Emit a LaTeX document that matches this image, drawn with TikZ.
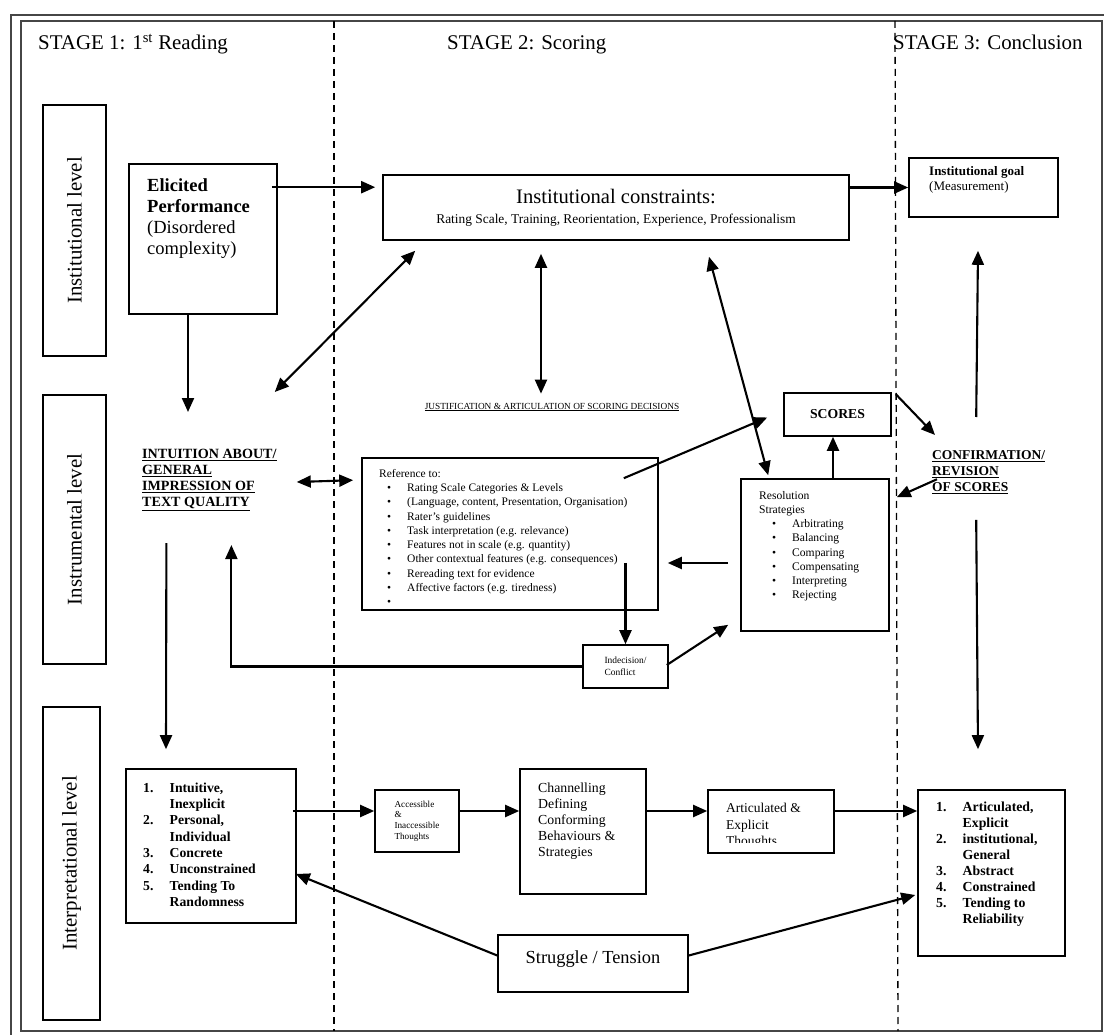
\documentclass[tikz,border=0pt]{standalone}
\usepackage{fontspec}
\setmainfont{Liberation Serif}
\usetikzlibrary{arrows.meta,positioning,calc}
\definecolor{frameGray}{RGB}{70,70,70}
\newcommand{\listbullet}[1]{\hspace*{#1pt}\makebox[20pt][l]{\textbullet}}
\newcommand{\numitem}[1]{\makebox[26.5pt][l]{#1}}

\begin{document}
\begin{tikzpicture}[
  x=1pt, y=-1pt,
  box/.style={
    draw,
    line width=1.6pt,
    inner sep=0pt
  },
  level/.style={
    box,
    rotate=90,
    font=\fontsize{20.9}{24}\selectfont
  },
  txt/.style={inner sep=0pt, align=left, anchor=north west},
  stage/.style={inner sep=0pt, anchor=base west, font=\fontsize{20.9}{24}\selectfont},
  stageline/.style={line width=1.3pt, dash pattern=on 7pt off 5pt},
  arrow/.style={-{Triangle[length=14pt,width=12pt]}, line width=2.1pt},
  dblarrow/.style={{Triangle[length=14pt,width=12pt]}-{Triangle[length=14pt,width=12pt]}, line width=2.1pt}
]
  \useasboundingbox (0,0) rectangle (1104,1035);
  % frame and stages
  \draw[frameGray, line width=2.2pt] (11,1035) -- (11,15) -- (1104,15);
  \draw[frameGray, line width=2pt] (21,21) rectangle (1102,1031);
  \draw[stageline] (334,21) -- (334,1031);
  \draw[stageline] (895,21) -- (898,1031);
  \node[stage] (stage1) at (38,50) {STAGE 1: 1\textsuperscript{st} Reading};
  \node[stage] (stage2) at (447,50) {STAGE 2: Scoring};
  \node[stage] (stage3) at (893,50) {STAGE 3: Conclusion};

  % levels
  \node[level, minimum width=251, minimum height=63] (instlevel) at (74.5,230.5) {Institutional level};
  \node[level, minimum width=269, minimum height=63] (instrlevel) at (74.5,529.5) {Instrumental level};
  \node[level, minimum width=313, minimum height=57] (interlevel) at (71.5,863.5) {Interpretational level};

  % institutional level
  \node[box, minimum width=148, minimum height=150] (elicited) at (203,239) {};
  \node[txt, font=\fontsize{18.5}{21}\selectfont] (elicitedtext) at (147,178) {\textbf{Elicited}\\\textbf{Performance}\\(Disordered\\complexity)};
  \node[box, align=center, minimum width=466, minimum height=65, font=\fontsize{13.4}{20}\selectfont] (constraints) at (616,207.5) {{\fontsize{20.6}{20}\selectfont Institutional constraints:}\\Rating Scale, Training, Reorientation, Experience, Professionalism};
  \node[box, minimum width=149, minimum height=59] (goal) at (983.5,187.5) {};
  \node[txt, font=\fontsize{13}{15}\selectfont] (goaltext) at (929,166) {\textbf{Institutional goal}\\(Measurement)};

  % instrumental level
  \node[inner sep=0pt, font=\fontsize{9.3}{11}\selectfont] (justif) at (552,407) {\underline{JUSTIFICATION \& ARTICULATION OF SCORING DECISIONS}};
  \node[txt, font=\bfseries\fontsize{14.1}{16}\selectfont] (intuition) at (142,449) {\underline{INTUITION ABOUT/}\\\underline{GENERAL}\\\underline{IMPRESSION OF}\\\underline{TEXT QUALITY}};
  \node[box, minimum width=296, minimum height=152] (reference) at (510,534) {};
  \begin{scope}
    \clip (reference.north west) rectangle ($(reference.south east)+(0,-8)$);
    \node[txt, font=\fontsize{11.5}{14.25}\selectfont] (referencetext) at (379,469) {Reference to:\\
      \listbullet{8}Rating Scale Categories \& Levels\\
      \listbullet{8}(Language, content, Presentation, Organisation)\\
      \listbullet{8}Rater’s guidelines\\
      \listbullet{8}Task interpretation (e.g. relevance)\\
      \listbullet{8}Features not in scale (e.g. quantity)\\
      \listbullet{8}Other contextual features (e.g. consequences)\\
      \listbullet{8}Rereading text for evidence\\
      \listbullet{8}Affective factors (e.g. tiredness)\\
      \listbullet{8}};
  \end{scope}
  \node[box, minimum width=107, minimum height=43, font=\bfseries\fontsize{13.7}{16}\selectfont] (scores) at (837.5,414.5) {SCORES};
  \node[box, minimum width=148, minimum height=152] (resolution) at (815,555) {};
  \node[txt, font=\fontsize{11.6}{14.2}\selectfont] (resolutiontext) at (759,491) {Resolution\\Strategies\\
    \listbullet{13}Arbitrating\\
    \listbullet{13}Balancing\\
    \listbullet{13}Comparing\\
    \listbullet{13}Compensating\\
    \listbullet{13}Interpreting\\
    \listbullet{13}Rejecting};
  \node[box, align=left, minimum width=85, minimum height=43, font=\fontsize{9.45}{12}\selectfont] (indecision) at (625.5,666.5) {Indecision/\\Conflict};
  \node[txt, font=\bfseries\fontsize{13.5}{16}\selectfont] (confirm) at (932,450.5) {\underline{CONFIRMATION/}\\\underline{REVISION}\\\underline{OF SCORES}};

  % interpretational level
  \coordinate (rowy) at (0,811);
  \node[box, minimum width=170, minimum height=154] (leftlist) at (211,846) {};
  \node[txt, font=\bfseries\fontsize{13.7}{16.3}\selectfont] (leftlisttext) at (143,782.5) {\numitem{1.}Intuitive,\\\numitem{}Inexplicit\\\numitem{2.}Personal,\\\numitem{}Individual\\\numitem{3.}Concrete\\\numitem{4.}Unconstrained\\\numitem{5.}Tending To\\\numitem{}Randomness};
  \node[box, align=left, minimum width=84, minimum height=62, font=\fontsize{9.2}{10.7}\selectfont] (accessible) at (417,821) {Accessible\\\&\\Inaccessible\\Thoughts};
  \node[box, minimum width=126, minimum height=125] (channelling) at (583,831.5) {};
  \node[txt, font=\fontsize{13.8}{16}\selectfont] (channellingtext) at (538,782.5) {Channelling\\Defining\\Conforming\\Behaviours \&\\Strategies};
  \node[box, minimum width=126, minimum height=63] (articulated) at (771,821.5) {};
  \begin{scope}
    \clip (articulated.north west) rectangle ($(articulated.south east)+(0,-11)$);
    \node[txt, font=\fontsize{13.5}{16.5}\selectfont] (articulatedtext) at (726,803) {Articulated \&\\Explicit\\Thoughts};
  \end{scope}
  \node[box, minimum width=147, minimum height=166] (rightlist) at (991.5,873) {};
  \node[txt, font=\bfseries\fontsize{13.8}{16}\selectfont] (rightlisttext) at (936,802) {\numitem{1.}Articulated,\\\numitem{}Explicit\\\numitem{2.}institutional,\\\numitem{}General\\\numitem{3.}Abstract\\\numitem{4.}Constrained\\\numitem{5.}Tending to\\\numitem{}Reliability};
  \node[box, minimum width=190, minimum height=57, text height=13, text depth=13, font=\fontsize{18.4}{21}\selectfont] (struggle) at (593,963.5) {Struggle / Tension};

  % connectors
  \draw[arrow] ($(elicited.north east)+(-6,24)$) -- ($(constraints.north west)+(-7,13)$);
  \draw[arrow] (constraints.east |- goal.west) -- (goal.west);
  \draw[arrow] ($(elicited.south)+(-15,0)$) -- ($(intuition.north west)+(46,-37)$);
  \draw[dblarrow] ($(intuition.north east)+(-2,-57)$) -- ($(constraints.south west)+(33,10)$);
  \draw[dblarrow] ($(constraints.south)+(-75,13)$) -- ($(justif.north)+(-11,-9)$);
  \draw[dblarrow] ($(constraints.south)+(93,16)$) -- ($(resolution.north west)+(28,-3)$);
  \draw[dblarrow] ($(intuition.east)+(20,2)$) -- ($(reference.north west)+(-8,23)$);
  \draw[arrow] ($(reference.north east)+(-35,21)$) -- ($(scores.west)+(-16,3)$);
  \draw[arrow] ($(resolution.north)+(18,0)$) -- ($(scores.south)+(-4.5,0)$);
  \draw[arrow] ($(scores.north east)+(4,2)$) -- ($(confirm.north west)+(3,-15.5)$);
  \draw[arrow] ($(confirm.west)+(5,7)$) -- ($(resolution.north east)+(7,19)$);
  \draw[arrow] ($(confirm.north)+(-12.5,-33.5)$) -- ($(goal.south)+(-5.5,33)$);
  \draw[arrow] ($(confirm.south)+(-12.5,26)$) -- ($(rightlist.north)+(-13.5,-40)$);
  \draw[arrow] ($(resolution.west)+(-12,8)$) -- ($(reference.east)+(9,29)$);
  \draw[arrow] ($(indecision.north |- reference.south)+(0,-48)$) -- (indecision.north);
  \draw[arrow] ($(indecision.east)+(-2,-1.5)$) -- ($(resolution.south west)+(-12,-7)$);
  \draw[arrow] (indecision.west) -| ($(intuition.south)+(22,34)$);
  \draw[arrow] ($(intuition.south)+(-43,32)$) -- ($(leftlist.north)+(-45,-19)$);
  \draw[arrow] ($(leftlist.east |- rowy)+(-4,0)$) -- (accessible.west |- rowy);
  \draw[arrow] (accessible.east |- rowy) -- (channelling.west |- rowy);
  \draw[arrow] (channelling.east |- rowy) -- (articulated.west |- rowy);
  \draw[arrow] (articulated.east |- rowy) -- (rightlist.west |- rowy);
  \draw[arrow] ($(struggle.west)+(0,-8)$) -- ($(leftlist.east)+(-1,28)$);
  \draw[arrow] ($(struggle.east)+(0,-8)$) -- ($(rightlist.west)+(-2,22)$);
\end{tikzpicture}
\end{document}
